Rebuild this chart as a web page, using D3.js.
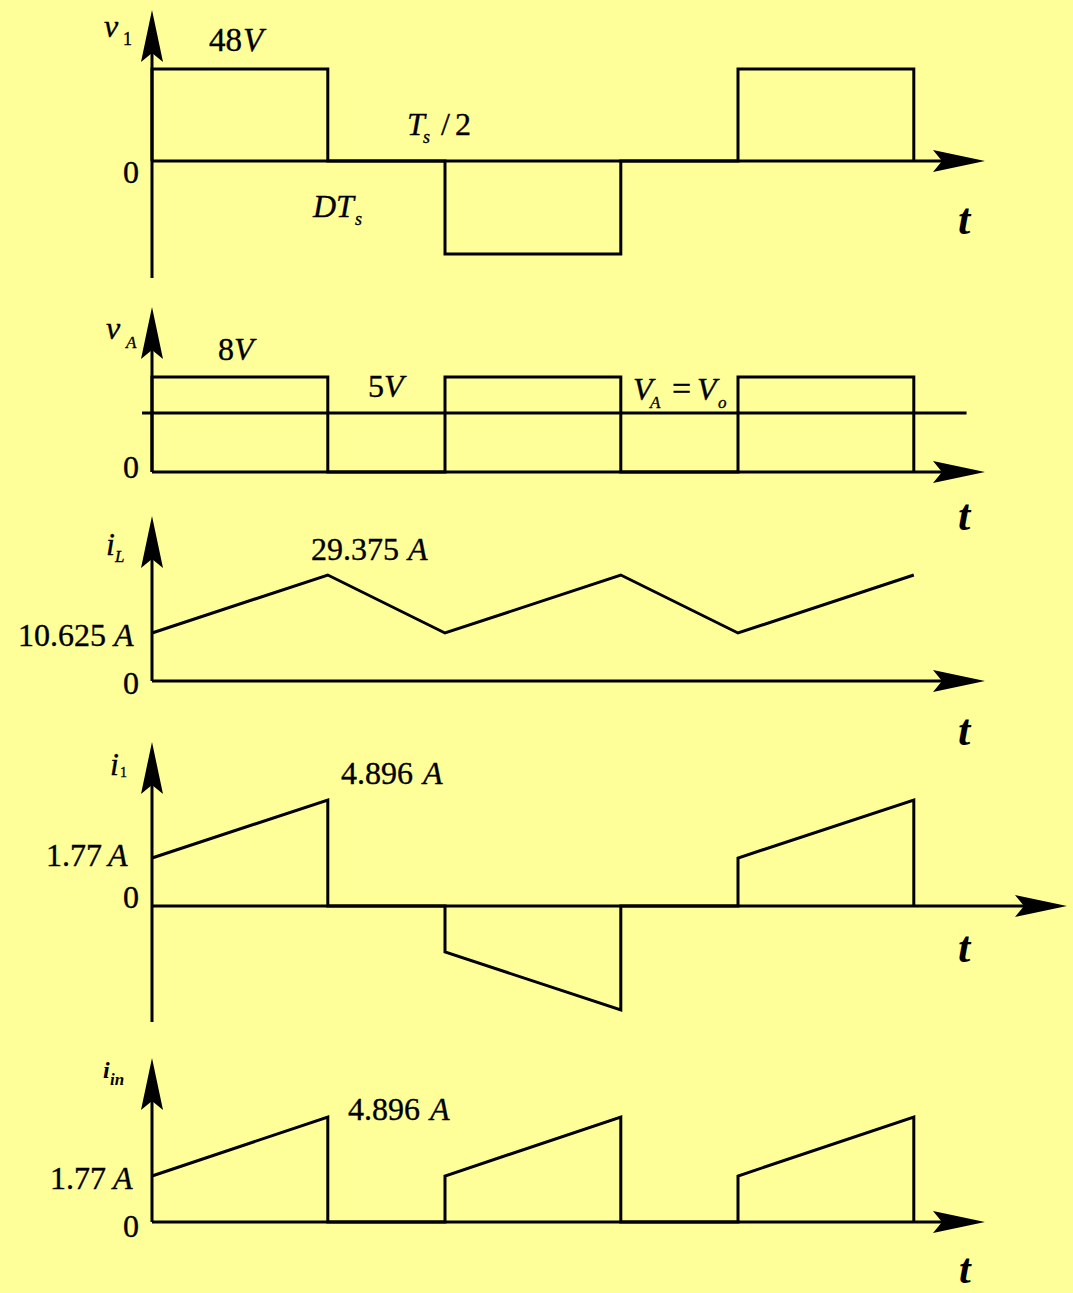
<!DOCTYPE html>
<html>
<head>
<meta charset="utf-8">
<script src="https://cdn.jsdelivr.net/npm/d3@7"></script>
<style>
  body { margin: 0; background: #ffff99; }
  svg { display: block; }
  text { font-family: "Liberation Serif", "Times New Roman", serif; fill: #000; }
</style>
</head>
<body>
<div id="chart"></div>
<script>
const W = 1073, H = 1293;

// time in units of Ts (DTs = 0.3, Ts/2 = 0.5)
const tV1  = [0, 0, 0.3, 0.3, 0.5, 0.5, 0.8, 0.8, 1.0, 1.0, 1.3, 1.3];
const v1   = [0, 48, 48, 0, 0, -48, -48, 0, 0, 48, 48, 0];

const tVA  = [0, 0, 0.3, 0.3, 0.5, 0.5, 0.8, 0.8, 1.0, 1.0, 1.3, 1.3];
const vA   = [0, 8, 8, 0, 0, 8, 8, 0, 0, 8, 8, 0];
const vo   = 5;

const tIL  = [0, 0.3, 0.5, 0.8, 1.0, 1.3];
const iL   = [10.625, 29.375, 10.625, 29.375, 10.625, 29.375];

const tI1  = [0, 0.3, 0.3, 0.5, 0.5, 0.8, 0.8, 1.0, 1.0, 1.3, 1.3];
const i1   = [1.77, 4.896, 0, 0, -1.77, -4.896, 0, 0, 1.77, 4.896, 0];

const tIin = [0, 0.3, 0.3, 0.5, 0.5, 0.8, 0.8, 1.0, 1.0, 1.3, 1.3];
const iin  = [1.77, 4.896, 0, 0, 1.77, 4.896, 0, 0, 1.77, 4.896, 0];

const x = d3.scaleLinear().domain([0, 1]).range([152, 738]);

// the drawing is schematic, so each panel maps its labelled levels piecewise
const panels = [
  { t: tV1,  v: v1,  y: d3.scaleLinear().domain([-48, 0, 48]).range([254, 161, 69]),
    top: 10,  bottom: 278, tEnd: 1.4215 },
  { t: tVA,  v: vA,  y: d3.scaleLinear().domain([0, 5, 8]).range([472, 413, 377]),
    top: 307, bottom: 472, tEnd: 1.4215, level: vo },
  { t: tIL,  v: iL,  y: d3.scaleLinear().domain([0, 10.625, 29.375]).range([681, 633, 575]),
    top: 516, bottom: 681, tEnd: 1.4215 },
  { t: tI1,  v: i1,  y: d3.scaleLinear().domain([-4.896, -1.77, 0, 1.77, 4.896]).range([1010, 952, 906, 858, 800]),
    top: 742, bottom: 1022, tEnd: 1.5614 },
  { t: tIin, v: iin, y: d3.scaleLinear().domain([0, 1.77, 4.896]).range([1222, 1176, 1117]),
    top: 1058, bottom: 1222, tEnd: 1.4215 }
];

// [text, x, baseline, size, style]
const labels = [
  ["v", 104, 37, 32, "i"], ["1", 123, 45, 18, ""],
  ["48", 209, 51, 33, ""], ["V", 243, 51, 33, "i"],
  ["0", 123, 183, 32, ""],
  ["T", 407, 135, 32, "i"], ["s", 423, 143, 18, "i"], ["/", 441, 135, 32, ""], ["2", 455, 135, 32, ""],
  ["D", 313, 217, 32, "i"], ["T", 336, 217, 32, "i"], ["s", 355, 225, 18, "i"],
  ["t", 958, 234, 44, "bi"],

  ["v", 106, 339, 32, "i"], ["A", 126, 348, 17, "i"],
  ["8", 218, 360, 32, ""], ["V", 234, 360, 32, "i"],
  ["5", 368, 397, 32, ""], ["V", 384, 397, 32, "i"],
  ["V", 633, 400, 32, "i"], ["A", 650, 408, 17, "i"], ["=", 672, 400, 34, ""],
  ["V", 697, 400, 32, "i"], ["o", 718, 408, 17, "i"],
  ["0", 123, 478, 32, ""],
  ["t", 958, 530, 44, "bi"],

  ["i", 106, 555, 32, "i"], ["L", 115, 562, 17, "i"],
  ["29.375", 311, 560, 32, ""], ["A", 408, 560, 32, "i"],
  ["10.625", 18, 646, 32, ""], ["A", 114, 646, 32, "i"],
  ["0", 123, 694, 32, ""],
  ["t", 958, 745, 44, "bi"],

  ["i", 110, 775, 32, "i"], ["1", 120, 777, 14, ""],
  ["4.896", 341, 784, 32, ""], ["A", 423, 784, 32, "i"],
  ["1.77", 46, 866, 32, ""], ["A", 108, 866, 32, "i"],
  ["0", 123, 908, 32, ""],
  ["t", 958, 962, 44, "bi"],

  ["i", 103, 1078, 24, "bi"], ["in", 110, 1085, 17, "bi"],
  ["4.896", 348, 1120, 32, ""], ["A", 430, 1120, 32, "i"],
  ["1.77", 50, 1189, 32, ""], ["A", 113, 1189, 32, "i"],
  ["0", 123, 1237, 32, ""],
  ["t", 959, 1283, 42, "bi"]
];

const svg = d3.select("#chart").append("svg")
  .attr("width", W)
  .attr("height", H)
  .attr("viewBox", `0 0 ${W} ${H}`);

svg.append("rect").attr("width", W).attr("height", H).attr("fill", "#ffff99");

const upArrow = (cx, tip) =>
  `M${cx},${tip} L${cx + 11},${tip + 52} L${cx},${tip + 43} L${cx - 11},${tip + 52} Z`;
const rightArrow = (tip, cy) =>
  `M${tip},${cy} L${tip - 52},${cy - 11} L${tip - 43},${cy} L${tip - 52},${cy + 11} Z`;

panels.forEach(p => {
  const g = svg.append("g");
  const x0 = x(0), y0 = p.y(0), xEnd = x(p.tEnd);

  // axes
  g.append("line")
    .attr("x1", x0).attr("x2", x0)
    .attr("y1", p.bottom).attr("y2", p.top + 40)
    .attr("stroke", "#000").attr("stroke-width", 3);
  g.append("path").attr("d", upArrow(x0, p.top)).attr("fill", "#000");

  g.append("line")
    .attr("x1", x0).attr("x2", xEnd - 40)
    .attr("y1", y0).attr("y2", y0)
    .attr("stroke", "#000").attr("stroke-width", 3);
  g.append("path").attr("d", rightArrow(xEnd, y0)).attr("fill", "#000");

  if (p.level !== undefined) {
    g.append("line")
      .attr("x1", x(-0.017)).attr("x2", x(1.39))
      .attr("y1", p.y(p.level)).attr("y2", p.y(p.level))
      .attr("stroke", "#000").attr("stroke-width", 3);
  }

  const line = d3.line()
    .x(d => x(d[0]))
    .y(d => p.y(d[1]));

  g.append("path")
    .datum(p.t.map((t, i) => [t, p.v[i]]))
    .attr("d", line)
    .attr("fill", "none")
    .attr("stroke", "#000")
    .attr("stroke-width", 3)
    .attr("stroke-linejoin", "miter");
});

svg.append("g")
  .selectAll("text")
  .data(labels)
  .enter()
  .append("text")
  .attr("x", d => d[1])
  .attr("y", d => d[2])
  .attr("font-size", d => d[3])
  .attr("font-style", d => d[4].includes("i") ? "italic" : "normal")
  .attr("font-weight", d => d[4].includes("b") ? "bold" : "normal")
  .attr("stroke", "#000")
  .attr("stroke-width", d => d[4].includes("b") ? 0 : 0.35)
  .text(d => d[0]);
</script>
</body>
</html>
